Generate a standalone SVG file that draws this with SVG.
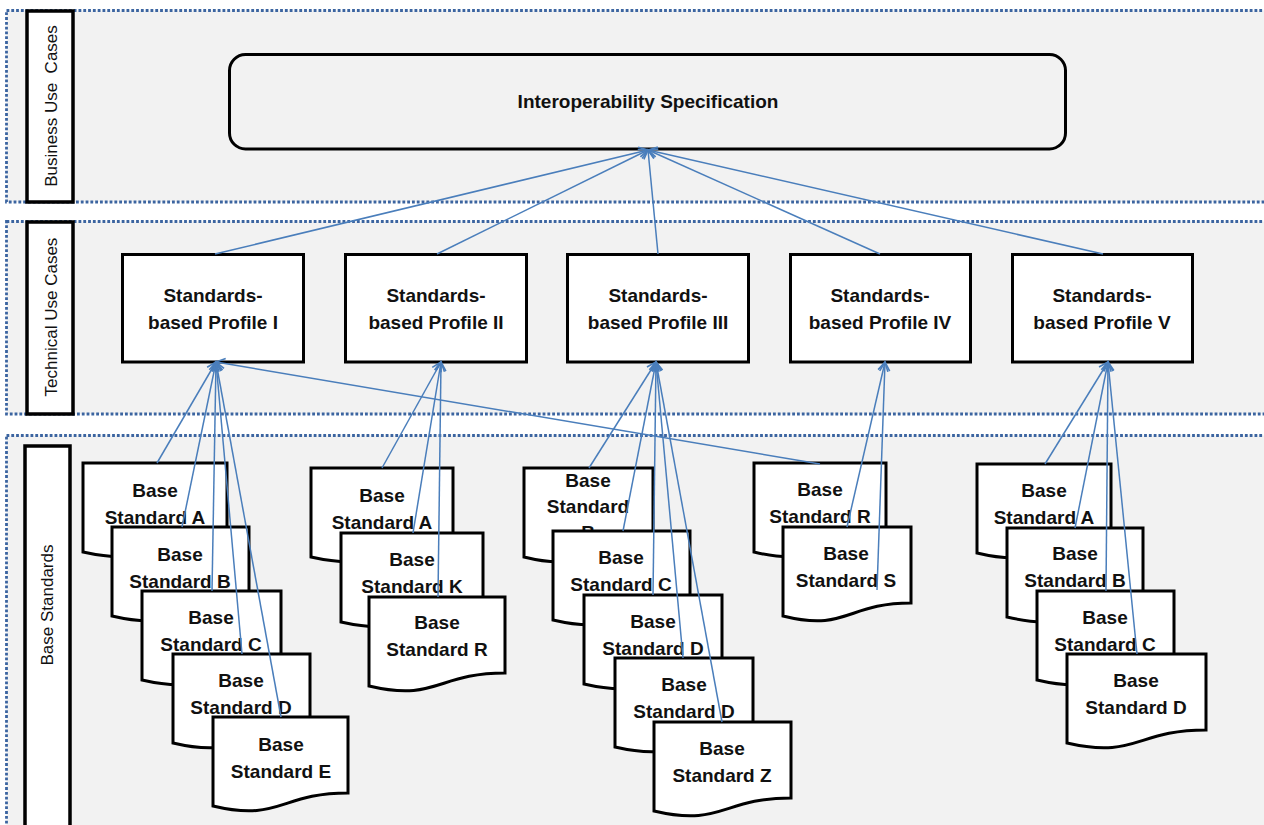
<svg xmlns="http://www.w3.org/2000/svg" width="1264" height="825" viewBox="0 0 1264 825">
<style>
.band{fill:#f2f2f2;stroke:#3b64a0;stroke-width:2.8;stroke-dasharray:2.8 2;}
.lbl{fill:#ffffff;stroke:#000;stroke-width:3.5;}
.lt{font-family:"Liberation Sans",Arial,sans-serif;font-size:17px;fill:#111;text-anchor:middle;white-space:pre;}
.box{fill:#ffffff;stroke:#000;stroke-width:3;}
.doc{fill:#ffffff;stroke:#000;stroke-width:3;stroke-linejoin:miter;}
.t{font-family:"Liberation Sans",Arial,sans-serif;font-size:19px;font-weight:bold;fill:#111;text-anchor:middle;}
.c{fill:none;stroke:#4a7ebb;stroke-width:1.5;marker-end:url(#arr);}
</style>
<defs>
<marker id="arr" viewBox="-11 -7 13 14" refX="0" refY="0" markerWidth="13" markerHeight="14" markerUnits="userSpaceOnUse" orient="auto">
<path d="M-9,-5 L0,0 L-9,5" fill="none" stroke="#4a7ebb" stroke-width="1.6"/>
</marker>
</defs>
<rect width="1264" height="825" fill="#ffffff"/>
<g id="bands">
<rect class="band" x="6.5" y="10.5" width="1270" height="191.5"/>
<rect class="band" x="6.5" y="221.5" width="1270" height="192.5"/>
<rect class="band" x="6.5" y="435.5" width="1270" height="400"/>
</g>
<g id="lane-business">
<rect class="lbl" x="27" y="11" width="46" height="191"/>
<text class="lt" transform="translate(57,106) rotate(-90)">Business Use  Cases</text>
</g>
<g id="lane-technical">
<rect class="lbl" x="27" y="222" width="46" height="192"/>
<text class="lt" transform="translate(57,317) rotate(-90)">Technical Use Cases</text>
</g>
<g id="lane-base">
<rect class="lbl" x="25" y="446" width="45" height="400"/>
<text class="lt" transform="translate(53,605) rotate(-90)">Base Standards</text>
</g>
<g id="interop">
<rect x="229.5" y="54.5" width="836" height="94.5" rx="16" fill="none" stroke="#000" stroke-width="3"/>
<text class="t" x="648" y="108">Interoperability Specification</text>
</g>
<g id="profile-1"><rect class="box" x="122.5" y="254.5" width="181" height="107.5"/><text class="t" x="213" y="302">Standards-</text><text class="t" x="213" y="329">based Profile I</text></g>
<g id="profile-2"><rect class="box" x="345.5" y="254.5" width="181" height="107.5"/><text class="t" x="436" y="302">Standards-</text><text class="t" x="436" y="329">based Profile II</text></g>
<g id="profile-3"><rect class="box" x="567.5" y="254.5" width="181" height="107.5"/><text class="t" x="658" y="302">Standards-</text><text class="t" x="658" y="329">based Profile III</text></g>
<g id="profile-4"><rect class="box" x="790.5" y="254.5" width="180" height="107.5"/><text class="t" x="880" y="302">Standards-</text><text class="t" x="880" y="329">based Profile IV</text></g>
<g id="profile-5"><rect class="box" x="1012.5" y="254.5" width="180" height="107.5"/><text class="t" x="1102" y="302">Standards-</text><text class="t" x="1102" y="329">based Profile V</text></g>

<!-- Group I -->
<g id="doc-1A"><path class="doc" d="M83,463 H227 V539 C155,539 155,568 83,552 Z"/><text class="t" x="155" y="497">Base</text><text class="t" x="155" y="524">Standard A</text></g>
<g id="doc-1B"><path class="doc" d="M112,527 H249 V603 C180,603 180,632 112,616 Z"/><text class="t" x="180" y="561">Base</text><text class="t" x="180" y="588">Standard B</text></g>
<g id="doc-1C"><path class="doc" d="M142,591 H281 V667 C211,667 211,696 142,680 Z"/><text class="t" x="211" y="624">Base</text><text class="t" x="211" y="651">Standard C</text></g>
<g id="doc-1D"><path class="doc" d="M173,654 H310 V730 C241,730 241,759 173,743 Z"/><text class="t" x="241" y="687">Base</text><text class="t" x="241" y="714">Standard D</text></g>
<g id="doc-1E"><path class="doc" d="M213,717 H348 V793 C280,793 280,822 213,806 Z"/><text class="t" x="281" y="751">Base</text><text class="t" x="281" y="778">Standard E</text></g>

<!-- Group II -->
<g id="doc-2A"><path class="doc" d="M311,468 H453 V544 C382,544 382,573 311,557 Z"/><text class="t" x="382" y="502">Base</text><text class="t" x="382" y="529">Standard A</text></g>
<g id="doc-2K"><path class="doc" d="M341,533 H483 V609 C412,609 412,638 341,622 Z"/><text class="t" x="412" y="566">Base</text><text class="t" x="412" y="593">Standard K</text></g>
<g id="doc-2R"><path class="doc" d="M369,597 H505 V673 C437,673 437,702 369,686 Z"/><text class="t" x="437" y="629">Base</text><text class="t" x="437" y="656">Standard R</text></g>

<!-- Group III -->
<g id="doc-3B"><path class="doc" d="M524,468 H653 V544 C588,544 588,573 524,557 Z"/><text class="t" x="588" y="487">Base</text><text class="t" x="588" y="513">Standard</text><text class="t" x="588" y="539">B</text></g>
<g id="doc-3C"><path class="doc" d="M553,531 H690 V607 C621,607 621,636 553,620 Z"/><text class="t" x="621" y="564">Base</text><text class="t" x="621" y="591">Standard C</text></g>
<g id="doc-3D"><path class="doc" d="M584,595 H722 V671 C653,671 653,700 584,684 Z"/><text class="t" x="653" y="628">Base</text><text class="t" x="653" y="655">Standard D</text></g>
<g id="doc-3D2"><path class="doc" d="M615,658 H753 V734 C684,734 684,763 615,747 Z"/><text class="t" x="684" y="691">Base</text><text class="t" x="684" y="718">Standard D</text></g>
<g id="doc-3Z"><path class="doc" d="M654,722 H791 V798 C722,798 722,827 654,811 Z"/><text class="t" x="722" y="755">Base</text><text class="t" x="722" y="782">Standard Z</text></g>

<!-- Group IV -->
<g id="doc-4R"><path class="doc" d="M754,463 H886 V539 C820,539 820,568 754,552 Z"/><text class="t" x="820" y="496">Base</text><text class="t" x="820" y="523">Standard R</text></g>
<g id="doc-4S"><path class="doc" d="M783,527 H911 V603 C847,603 847,632 783,616 Z"/><text class="t" x="846" y="560">Base</text><text class="t" x="846" y="587">Standard S</text></g>

<!-- Group V -->
<g id="doc-5A"><path class="doc" d="M977,464 H1111 V540 C1044,540 1044,569 977,553 Z"/><text class="t" x="1044" y="497">Base</text><text class="t" x="1044" y="524">Standard A</text></g>
<g id="doc-5B"><path class="doc" d="M1007,528 H1143 V604 C1075,604 1075,633 1007,617 Z"/><text class="t" x="1075" y="560">Base</text><text class="t" x="1075" y="587">Standard B</text></g>
<g id="doc-5C"><path class="doc" d="M1037,591 H1174 V667 C1105,667 1105,696 1037,680 Z"/><text class="t" x="1105" y="624">Base</text><text class="t" x="1105" y="651">Standard C</text></g>
<g id="doc-5D"><path class="doc" d="M1067,654 H1206 V730 C1136,730 1136,759 1067,743 Z"/><text class="t" x="1136" y="687">Base</text><text class="t" x="1136" y="714">Standard D</text></g>

<g id="connectors">
<line class="c" x1="215" y1="254" x2="648" y2="150"/>
<line class="c" x1="437" y1="254" x2="648" y2="150"/>
<line class="c" x1="658" y1="254" x2="648" y2="150"/>
<line class="c" x1="880" y1="254" x2="648" y2="150"/>
<line class="c" x1="1103" y1="254" x2="648" y2="150"/>

<line class="c" x1="157" y1="463" x2="216" y2="362"/>
<line class="c" x1="182" y1="527" x2="216" y2="362"/>
<line class="c" x1="212" y1="591" x2="216" y2="362"/>
<line class="c" x1="242" y1="654" x2="216" y2="362"/>
<line class="c" x1="281" y1="717" x2="216" y2="362"/>
<line class="c" x1="820" y1="464" x2="216" y2="362"/>

<line class="c" x1="382" y1="468" x2="441" y2="362"/>
<line class="c" x1="413" y1="533" x2="441" y2="362"/>
<line class="c" x1="438" y1="597" x2="441" y2="362"/>

<line class="c" x1="589" y1="468" x2="656" y2="362"/>
<line class="c" x1="623" y1="531" x2="656" y2="362"/>
<line class="c" x1="653" y1="595" x2="656" y2="362"/>
<line class="c" x1="683" y1="658" x2="656" y2="362"/>
<line class="c" x1="722" y1="722" x2="656" y2="362"/>

<line class="c" x1="847" y1="527" x2="885" y2="362"/>
<line class="c" x1="877" y1="590" x2="885" y2="362"/>

<line class="c" x1="1045" y1="464" x2="1108" y2="362"/>
<line class="c" x1="1075" y1="528" x2="1108" y2="362"/>
<line class="c" x1="1106" y1="591" x2="1108" y2="362"/>
<line class="c" x1="1137" y1="654" x2="1108" y2="362"/>
</g>
</svg>
